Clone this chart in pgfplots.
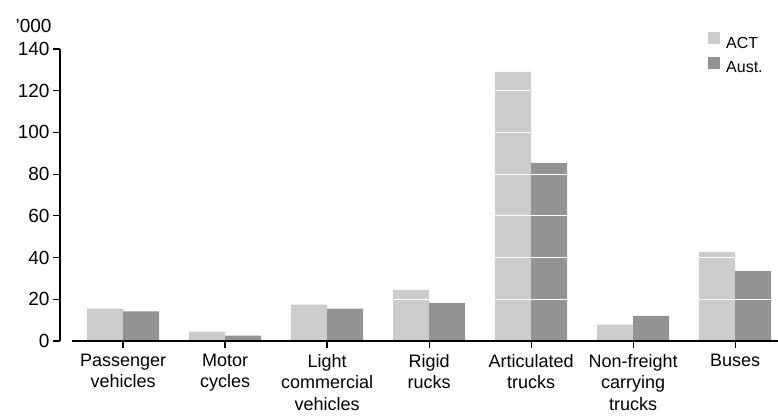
\documentclass[border=0pt]{standalone}
\usepackage{pgfplots}
\pgfplotsset{compat=1.18}
\usepackage{fontspec}
\setmainfont{Liberation Sans}
\definecolor{actc}{RGB}{204,204,204}
\definecolor{austc}{RGB}{147,147,149}
\begin{document}
\begin{tikzpicture}
\useasboundingbox (-60pt,-74pt) rectangle (718pt,341pt);
\begin{axis}[
  scale only axis, width=718pt, height=292pt,
  xmin=-0.618, xmax=6.42, ymin=0, ymax=140,
  axis y line*=left, axis x line*=bottom,
  x axis line style={draw=none},
  y axis line style={-, line width=1.2pt},
  every tick/.style={black, line width=1.2pt},
  major tick length=7pt, tick align=outside,
  ytick={0,20,...,140},
  xtick={0,1,2,3,4,5,6},
  xticklabels={{Passenger\\vehicles},{Motor\\cycles},{Light\\commercial\\vehicles},{Rigid\\rucks},{Articulated\\trucks},{Non-freight\\carrying\\trucks},{Buses}},
  xticklabel style={align=center, font=\fontsize{18}{21.5}\selectfont, anchor=north, yshift=-2.5pt},
  yticklabel style={font=\fontsize{19}{22}\selectfont},
  /pgf/number format/assume math mode=true,
  ymajorgrids, grid style={white, line width=1.2pt},
  axis on top,
  ybar=0pt, bar width=36pt,
  legend style={draw=none, fill=none, at={(0.9025,1.058)}, anchor=north west,
    font=\fontsize{16}{18}\selectfont, row sep=6pt, inner sep=0pt,
    nodes={inner sep=1pt}, /tikz/every odd column/.append style={column sep=5pt}},
  legend cell align=left,
]
\addplot[fill=actc, draw=none, legend image code/.code={\fill[actc] (0pt,-1pt) rectangle (12pt,11pt);}]
  coordinates {(0,15.5) (1,4.5) (2,17.5) (3,24.5) (4,129) (5,7.8) (6,42.7)};
\addplot[fill=austc, draw=none, legend image code/.code={\fill[austc] (0pt,-1pt) rectangle (12pt,11pt);}]
  coordinates {(0,14.2) (1,2.6) (2,15.5) (3,18.3) (4,85.4) (5,12) (6,33.6)};
\legend{ACT,Aust.}
\coordinate (xa) at (axis cs:-0.5,0);
\coordinate (xb) at (rel axis cs:1,0);
\end{axis}
\draw[line width=1.2pt] (xa) -- (xb);
\node[font=\fontsize{19}{22}\selectfont] at (-26.5pt,315pt) {'000};
\end{tikzpicture}
\end{document}
